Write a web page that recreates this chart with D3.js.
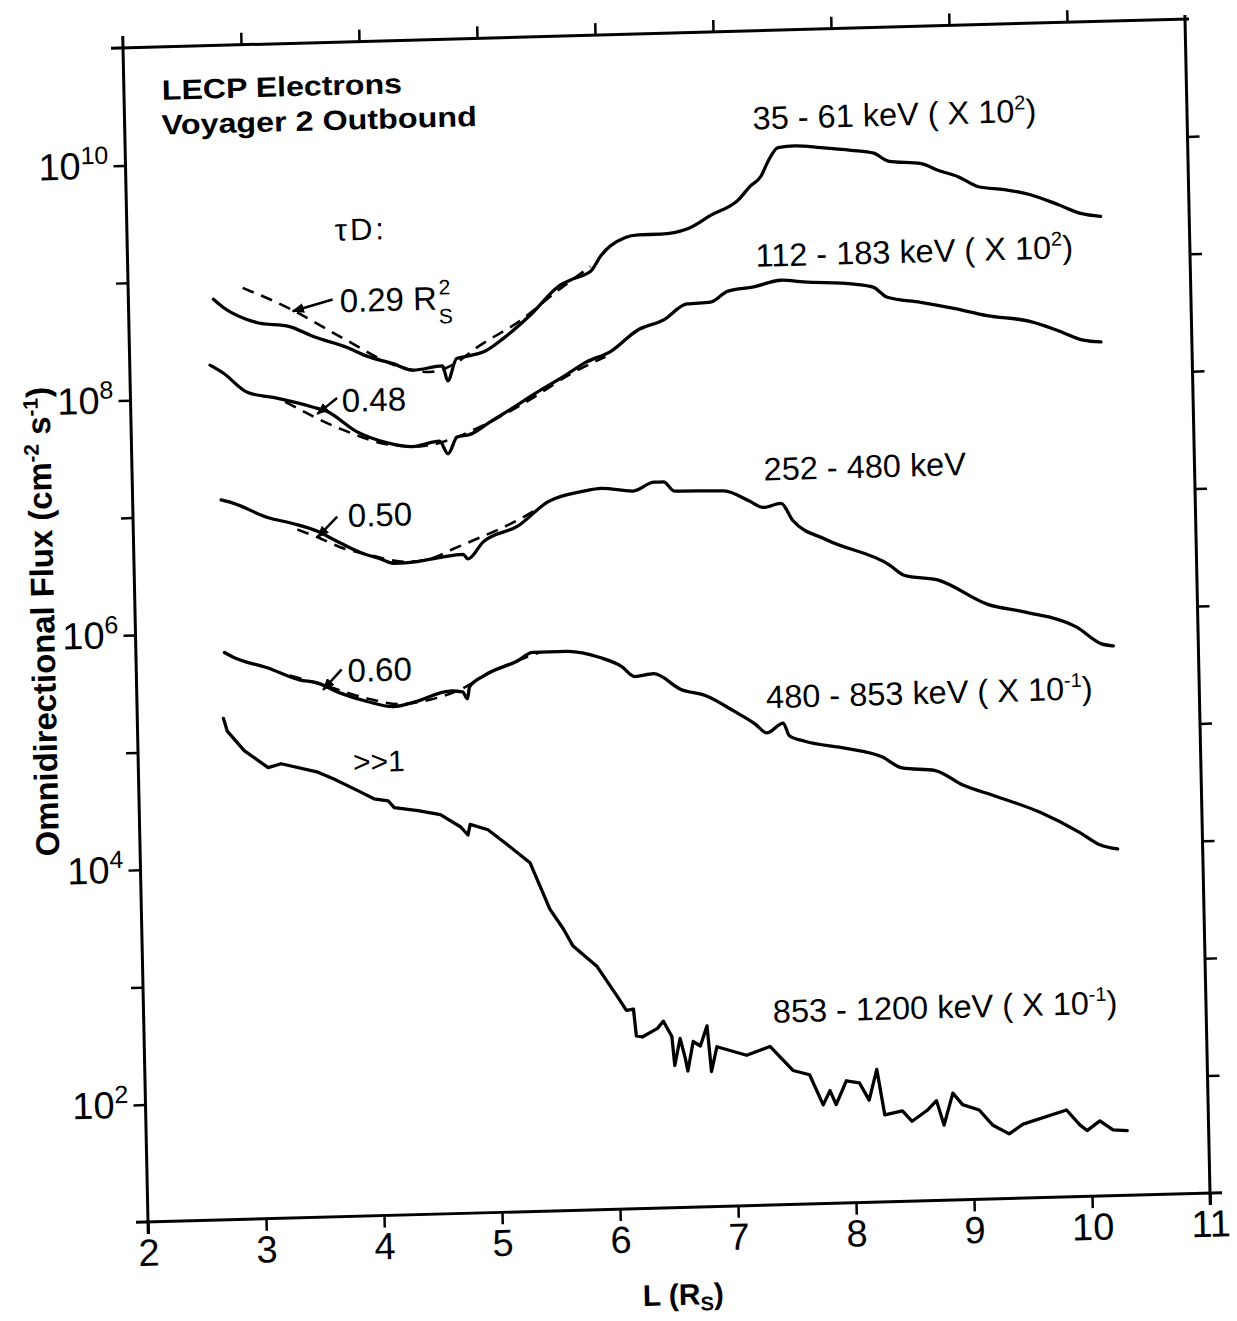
<!DOCTYPE html>
<html>
<head>
<meta charset="utf-8">
<script src="https://cdn.jsdelivr.net/npm/d3@7"></script>
<style>
  body { margin: 0; background: #fff; }
  svg { display: block; background: #fff; }
  text { font-family: "Liberation Sans", Arial, Helvetica, sans-serif; fill: #000; }
</style>
</head>
<body>
<div id="chart"></div>
<script>
// values, [L (Rs), log10 flux]
const e35_61 = [[2.72,8.84],[2.80,8.77],[3.00,8.66],[3.09,8.63],[3.36,8.59],[3.56,8.50],[3.84,8.40],[4.01,8.32],[4.23,8.25],[4.40,8.19],[4.65,8.22],[4.69,8.09],[4.77,8.28],[4.88,8.30],[5.00,8.33],[5.17,8.44],[5.40,8.63],[5.66,8.88],[5.77,8.93],[5.92,8.99],[6.01,9.12],[6.09,9.20],[6.33,9.29],[6.52,9.29],[6.75,9.33],[6.95,9.44],[7.18,9.56],[7.29,9.68],[7.38,9.76],[7.44,9.88],[7.53,10.00],[7.67,10.01],[7.89,9.99],[8.15,9.96],[8.34,9.93],[8.46,9.86],[8.74,9.83],[8.88,9.77],[9.05,9.71],[9.22,9.62],[9.44,9.59],[9.66,9.54],[9.89,9.45],[10.08,9.37],[10.25,9.34]];
const e112_183 = [[2.68,8.28],[2.79,8.21],[2.99,8.04],[3.21,7.99],[3.54,7.90],[3.66,7.86],[3.91,7.68],[4.16,7.58],[4.38,7.54],[4.61,7.58],[4.68,7.47],[4.76,7.61],[4.87,7.63],[5.04,7.73],[5.21,7.83],[5.44,7.97],[5.67,8.10],[5.87,8.22],[6.07,8.30],[6.31,8.48],[6.53,8.56],[6.73,8.69],[6.93,8.70],[7.08,8.79],[7.30,8.82],[7.53,8.87],[7.72,8.85],[8.15,8.82],[8.31,8.79],[8.43,8.70],[8.71,8.65],[8.99,8.59],[9.27,8.52],[9.64,8.46],[9.86,8.38],[10.08,8.29],[10.23,8.27]];
const e252_480 = [[2.75,7.13],[2.85,7.10],[3.14,6.97],[3.36,6.91],[3.56,6.84],[3.69,6.77],[3.92,6.65],[4.09,6.59],[4.20,6.55],[4.40,6.56],[4.60,6.59],[4.79,6.61],[4.83,6.57],[4.96,6.71],[5.26,6.84],[5.52,7.04],[5.82,7.12],[5.97,7.14],[6.24,7.11],[6.42,7.18],[6.50,7.18],[6.59,7.10],[7.01,7.09],[7.22,7.00],[7.34,6.94],[7.49,6.97],[7.59,6.82],[7.87,6.65],[8.40,6.42],[8.52,6.33],[8.81,6.28],[9.23,6.06],[9.53,5.99],[9.97,5.85],[10.18,5.70],[10.28,5.68]];
const e480_853 = [[2.75,5.83],[2.82,5.79],[3.11,5.69],[3.38,5.58],[3.53,5.55],[3.72,5.46],[3.95,5.38],[4.17,5.33],[4.37,5.37],[4.65,5.45],[4.76,5.44],[4.80,5.38],[4.82,5.48],[4.94,5.57],[5.23,5.69],[5.36,5.76],[5.65,5.76],[5.93,5.70],[6.11,5.62],[6.22,5.53],[6.38,5.55],[6.61,5.41],[6.82,5.35],[7.06,5.21],[7.23,5.10],[7.33,5.02],[7.47,5.10],[7.52,4.99],[7.65,4.94],[8.00,4.87],[8.30,4.79],[8.47,4.69],[8.75,4.66],[8.98,4.53],[9.25,4.43],[9.63,4.28],[9.96,4.10],[10.13,3.99],[10.28,3.95]];
const e853_1200 = [[2.73,5.27],[2.76,5.16],[2.81,5.10],[2.90,4.99],[3.10,4.84],[3.21,4.87],[3.52,4.79],[3.65,4.73],[3.88,4.61],[3.99,4.55],[4.11,4.53],[4.16,4.47],[4.36,4.44],[4.55,4.40],[4.72,4.29],[4.78,4.22],[4.80,4.31],[4.95,4.26],[5.11,4.13],[5.30,3.97],[5.38,3.77],[5.46,3.57],[5.57,3.40],[5.65,3.25],[5.85,3.07],[6.01,2.82],[6.09,2.69],[6.15,2.70],[6.17,2.47],[6.22,2.46],[6.35,2.53],[6.40,2.59],[6.47,2.46],[6.49,2.21],[6.54,2.44],[6.58,2.27],[6.60,2.16],[6.65,2.41],[6.71,2.37],[6.77,2.54],[6.80,2.15],[6.85,2.36],[7.10,2.28],[7.30,2.35],[7.49,2.14],[7.63,2.10],[7.74,1.84],[7.80,1.96],[7.85,1.84],[7.94,2.04],[8.05,2.02],[8.13,1.87],[8.20,2.13],[8.26,1.74],[8.41,1.77],[8.49,1.68],[8.62,1.77],[8.70,1.85],[8.76,1.64],[8.84,1.91],[8.92,1.81],[9.06,1.76],[9.17,1.63],[9.31,1.55],[9.43,1.63],[9.80,1.74],[9.91,1.61],[9.97,1.56],[10.08,1.64],[10.19,1.56],[10.31,1.55]];

// diffusion model fits (dashed)
const fit029 = [[2.97,8.93],[3.37,8.74],[3.79,8.49],[4.29,8.22],[4.54,8.17],[4.76,8.24],[4.93,8.36],[5.32,8.59],[5.66,8.85],[5.92,9.03]];
const fit048 = [[3.31,7.95],[3.79,7.70],[4.19,7.56],[4.44,7.54],[4.70,7.59],[4.95,7.69],[5.38,7.91],[5.73,8.12],[6.03,8.26]];
const fit050 = [[3.39,6.86],[3.56,6.79],[3.75,6.70],[3.95,6.64],[4.32,6.56],[4.51,6.58],[4.71,6.66],[4.91,6.74],[5.11,6.82],[5.28,6.90],[5.46,7.00]];
const fit060 = [[3.30,5.62],[3.64,5.51],[3.97,5.40],[4.23,5.35],[4.48,5.38],[4.74,5.46],[5.00,5.60],[5.25,5.70],[5.42,5.76]];

const xTicks = [2, 3, 4, 5, 6, 7, 8, 9, 10, 11];
const yDecades = [2, 3, 4, 5, 6, 7, 8, 9, 10];

// channel labels: text, superscript, anchor [L, log10 flux]
const channelLabels = [
  { text: "35 - 61 keV ( X 10", sup: "2", tail: ")", at: [7.32, 10.16] },
  { text: "112 - 183 keV ( X 10", sup: "2", tail: ")", at: [7.32, 8.99] },
  { text: "252 - 480 keV", sup: "", tail: "", at: [7.35, 7.17] },
  { text: "480 - 853 keV ( X 10", sup: "-1", tail: ")", at: [7.33, 5.23] },
  { text: "853 - 1200 keV ( X 10", sup: "-1", tail: ")", at: [7.33, 2.55] }
];
// tau D labels with arrow from / to
const tauLabels = [
  { text: "0.48", at: [3.79, 7.85], from: [3.75, 7.97], to: [3.58, 7.84] },
  { text: "0.50", at: [3.82, 6.87], from: [3.73, 6.96], to: [3.56, 6.79] },
  { text: "0.60", at: [3.79, 5.55], from: [3.74, 5.66], to: [3.58, 5.49] }
];

const width = 1062, height = 1180;
const x = d3.scaleLinear().domain([2, 11]).range([0, width]);
const y = d3.scaleLog().domain([1e1, 1e11]).range([height, 0]);
const px = d => x(d[0]);
const py = d => y(Math.pow(10, d[1]));

const svg = d3.select("#chart").append("svg")
  .attr("width", 1237)
  .attr("height", 1321);

svg.append("defs").append("marker")
  .attr("id", "arr")
  .attr("viewBox", "0 0 10 8")
  .attr("refX", 9).attr("refY", 4)
  .attr("markerWidth", 5).attr("markerHeight", 4)
  .attr("orient", "auto")
  .append("path").attr("d", "M0,0 L10,4 L0,8 z").attr("fill", "#000");

// the scan is slightly skewed, so the whole chart sits in a skewed group
const g = svg.append("g")
  .attr("transform", "matrix(1,-0.02731,0.02119,0.99492,123,48)");

// frame lines, a bit longer than the box like the original
const ext = 12;
const frame = g.append("g").attr("stroke", "#000").attr("stroke-width", 3).attr("stroke-linecap", "butt");
frame.append("line").attr("x1", x(2) - ext).attr("x2", x(11) + ext).attr("y1", y(1e1)).attr("y2", y(1e1));
frame.append("line").attr("x1", x(2) - ext).attr("x2", x(11) + 4).attr("y1", y(1e11)).attr("y2", y(1e11));
frame.append("line").attr("x1", x(2)).attr("x2", x(2)).attr("y1", y(1e11) - ext).attr("y2", y(1e1) + ext);
frame.append("line").attr("x1", x(11)).attr("x2", x(11)).attr("y1", y(1e11) - 4).attr("y2", y(1e1) + ext);

function styleAxis(sel) {
  sel.select(".domain").remove();
  sel.selectAll(".tick line").attr("stroke", "#000").attr("stroke-width", 2.5);
  sel.selectAll(".tick text")
    .attr("font-family", "Liberation Sans, Arial, sans-serif")
    .attr("font-size", 38).attr("fill", "#000");
}

const gBottom = g.append("g").attr("transform", `translate(0,${height})`)
  .call(d3.axisBottom(x).tickValues(xTicks).tickSize(12).tickPadding(5).tickFormat(d3.format("d")));
styleAxis(gBottom);

g.append("g")
  .call(d3.axisTop(x).tickValues(xTicks.slice(1, -1)).tickSize(12).tickFormat(""))
  .call(styleAxis);

g.append("g").attr("transform", `translate(${width},0)`)
  .call(d3.axisRight(y).tickValues(yDecades.map(e => Math.pow(10, e))).tickSize(12).tickFormat(""))
  .call(styleAxis);

const gLeft = g.append("g")
  .call(d3.axisLeft(y).tickValues(yDecades.map(e => Math.pow(10, e))).tickSize(12).tickPadding(5));
styleAxis(gLeft);
gLeft.selectAll(".tick text").each(function(d) {
  const e = Math.round(Math.log10(d));
  const t = d3.select(this).text(null);
  if (e % 2) return;
  t.append("tspan").text("10");
  t.append("tspan").attr("dy", -15).attr("font-size", 25).text(e);
});

// curves
const smooth = d3.line().x(px).y(py).curve(d3.curveMonotoneX);
const solid = [e35_61, e112_183, e252_480, e480_853];

g.append("g").selectAll("path").data(solid).join("path")
  .attr("d", smooth)
  .attr("fill", "none").attr("stroke", "#000")
  .attr("stroke-width", 3.3)
  .attr("stroke-linejoin", "round").attr("stroke-linecap", "round");

// the highest channel is spiky, keep it straight-segmented
g.append("path").datum(e853_1200)
  .attr("d", d3.line().x(px).y(py))
  .attr("fill", "none").attr("stroke", "#000")
  .attr("stroke-width", 3.3)
  .attr("stroke-linejoin", "round").attr("stroke-linecap", "round");

const dashed = [fit029, fit048, fit050, fit060];
g.append("g").selectAll("path").data(dashed).join("path")
  .attr("d", smooth)
  .attr("fill", "none").attr("stroke", "#000")
  .attr("stroke-width", 2.6)
  .attr("stroke-dasharray", "12,8");

// channel labels
const labFs = 32.5;
channelLabels.forEach(l => {
  const t = g.append("text").attr("x", px(l.at)).attr("y", py(l.at)).attr("font-size", labFs);
  t.append("tspan").text(l.text);
  if (l.sup) {
    t.append("tspan").attr("dy", -13).attr("font-size", 20).text(l.sup);
    t.append("tspan").attr("dy", 13).text(l.tail);
  }
});

// tau D annotations
g.append("text").attr("x", x(3.76)).attr("y", y(Math.pow(10, 9.31)))
  .attr("font-size", 31).attr("letter-spacing", 3).text("τD:");

const t029 = g.append("text").attr("x", x(3.79)).attr("y", y(Math.pow(10, 8.70))).attr("font-size", 33);
t029.append("tspan").text("0.29 R");
t029.append("tspan").attr("dy", -15).attr("dx", 2).attr("font-size", 21).text("2");
t029.append("tspan").attr("dy", 29).attr("dx", -12).attr("font-size", 21).text("S");
g.append("line")
  .attr("x1", x(3.73)).attr("y1", y(Math.pow(10, 8.81)))
  .attr("x2", x(3.39)).attr("y2", y(Math.pow(10, 8.72)))
  .attr("stroke", "#000").attr("stroke-width", 2.5).attr("marker-end", "url(#arr)");

tauLabels.forEach(l => {
  g.append("text").attr("x", px(l.at)).attr("y", py(l.at)).attr("font-size", 33).text(l.text);
  g.append("line")
    .attr("x1", px(l.from)).attr("y1", py(l.from))
    .attr("x2", px(l.to)).attr("y2", py(l.to))
    .attr("stroke", "#000").attr("stroke-width", 2.5).attr("marker-end", "url(#arr)");
});

g.append("text").attr("x", x(3.82)).attr("y", y(Math.pow(10, 4.78)))
  .attr("font-size", 30).text(">>1");

// header
g.append("text").attr("x", 38).attr("y", 53).attr("font-size", 28).attr("font-weight", "bold")
  .attr("textLength", 240).attr("lengthAdjust", "spacingAndGlyphs").text("LECP Electrons");
g.append("text").attr("x", 37).attr("y", 88).attr("font-size", 28).attr("font-weight", "bold")
  .attr("textLength", 315).attr("lengthAdjust", "spacingAndGlyphs").text("Voyager 2 Outbound");

// axis titles
const xt = g.append("text").attr("x", x(6.52)).attr("y", height + 98)
  .attr("text-anchor", "middle").attr("font-size", 30).attr("font-weight", "bold");
xt.append("tspan").text("L (R");
xt.append("tspan").attr("dy", 6).attr("font-size", 20).text("S");
xt.append("tspan").attr("dy", -6).text(")");

const yt = g.append("text").attr("transform", "translate(-81,574) rotate(-90)")
  .attr("text-anchor", "middle").attr("font-size", 33).attr("font-weight", "bold");
yt.append("tspan").text("Omnidirectional Flux (cm");
yt.append("tspan").attr("dy", -12).attr("font-size", 21).text("-2");
yt.append("tspan").attr("dy", 12).text(" s");
yt.append("tspan").attr("dy", -12).attr("font-size", 21).text("-1");
yt.append("tspan").attr("dy", 12).text(")");
</script>
</body>
</html>
